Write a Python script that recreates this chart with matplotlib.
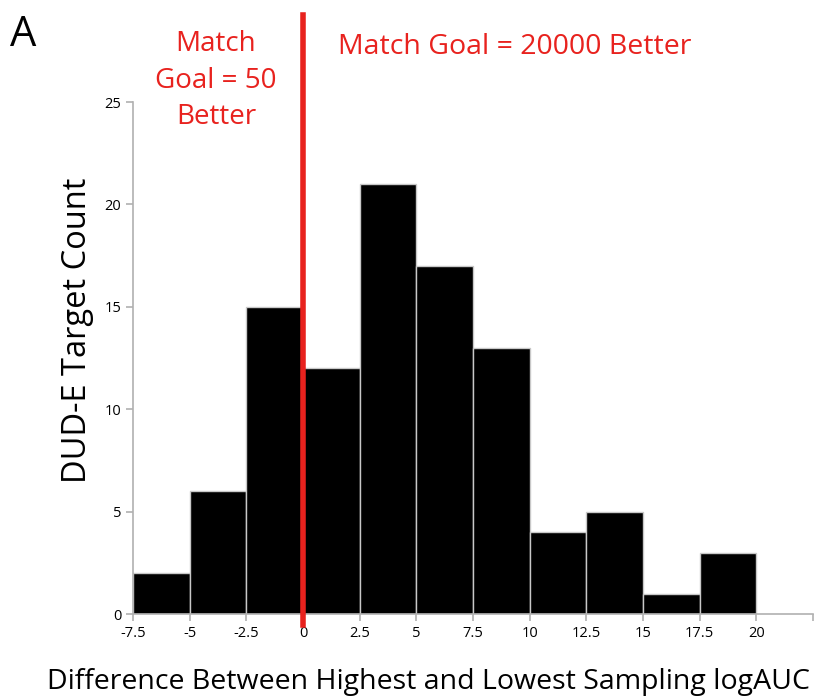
import matplotlib.pyplot as plt
import numpy as np

# histogram of logAUC differences, bin width 2.5
bin_edges = [-7.5, -5, -2.5, 0, 2.5, 5, 7.5, 10, 12.5, 15, 17.5, 20]
counts = [2, 6, 15, 12, 21, 17, 13, 4, 5, 1, 3]
xtick_vals = [-7.5, -5, -2.5, 0, 2.5, 5, 7.5, 10, 12.5, 15, 17.5, 20]
xtick_labels = ["-7.5", "-5", "-2.5", "0", "2.5", "5", "7.5", "10", "12.5", "15", "17.5", "20"]
ytick_vals = [0, 5, 10, 15, 20, 25]

plt.rcParams['font.family'] = ['Open Sans', 'DejaVu Sans']

fig = plt.figure(figsize=(8.19, 6.99), dpi=100)
ax = fig.add_axes([0.1624, 0.1216, 0.8303, 0.7324])

lefts = np.array(bin_edges[:-1])
widths = np.diff(bin_edges)
ax.bar(lefts, counts, width=widths, align='edge', color='black',
       edgecolor='#c8c8c8', linewidth=1.0)

ax.set_xlim(-7.5, 22.5)
ax.set_ylim(0, 25)
ax.set_xticks(xtick_vals + [22.5])
ax.set_xticklabels(xtick_labels + [""])
ax.set_yticks(ytick_vals)

for s in ['top', 'right']:
    ax.spines[s].set_visible(False)
for s in ['left', 'bottom']:
    ax.spines[s].set_color('#b0b0b0')
    ax.spines[s].set_linewidth(1.2)
ax.tick_params(colors='#b0b0b0', labelcolor='black', labelsize=10.5, length=5, width=1.2)

ax.set_xlabel("Difference Between Highest and Lowest Sampling logAUC",
              fontsize=20.5)
ax.xaxis.set_label_coords(0.435, -0.105)
ax.set_ylabel("DUD-E Target Count", fontsize=23.5)
ax.yaxis.set_label_coords(-0.058, 0.555)

# threshold line at zero
ax.plot([0, 0], [-0.55, 29.25], color='#e8221e', linewidth=4, clip_on=False, zorder=5)

ax.text(-3.84, 26.05, "Match\nGoal = 50\nBetter", color='#e8221e', fontsize=20,
        ha='center', va='center', linespacing=1.42)
ax.text(1.53, 27.7, "Match Goal = 20000 Better", color='#e8221e', fontsize=20.5,
        ha='left', va='center')

fig.text(0.012, 0.95, "A", fontsize=30, ha='left', va='center')

fig.savefig("out.png", dpi=100)
